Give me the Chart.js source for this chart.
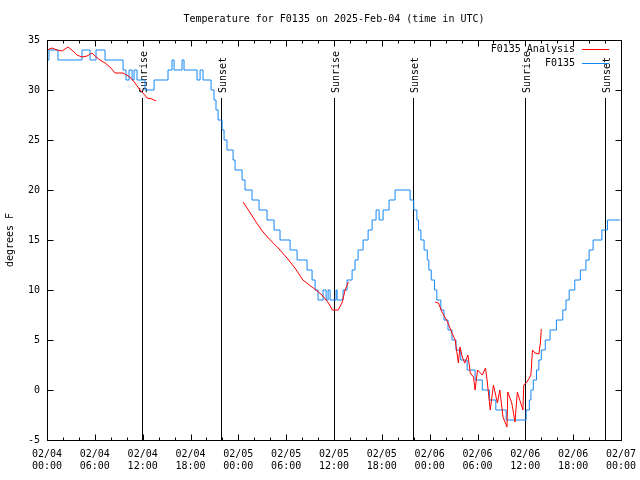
<!DOCTYPE html>
<html>
<head>
<meta charset="utf-8">
<title>Temperature for F0135</title>
<script src="https://cdn.jsdelivr.net/npm/chart.js@4/dist/chart.umd.min.js"></script>
<style>
  html, body { margin: 0; padding: 0; background: #fff; }
  canvas { display: block; }
</style>
</head>
<body>
<canvas id="tempChart" width="640" height="480"></canvas>
<script>
// Hours since 02/04 00:00 UTC, temperatures in degrees F
const obsHours = [0, 0.25, 1.38, 4.39, 5.4, 6.15, 7.28, 9.54, 9.91, 10.29, 10.67, 10.92, 11.29,
  12.3, 13.43, 15.18, 15.68, 15.94, 16.94, 17.19, 18.82, 19.2, 19.57, 20.58, 20.95, 21.2, 21.46,
  21.96, 22.21, 22.58, 23.34, 23.59, 24.47, 24.84, 25.72, 26.6, 27.6, 28.48, 29.23, 30.49, 31.37,
  32.62, 33.25, 33.63, 34.0, 34.63, 35.01, 35.26, 35.51, 36.26, 36.39, 37.14, 37.64, 38.27, 38.64,
  39.02, 39.65, 40.28, 40.78, 41.28, 41.66, 42.16, 42.91, 43.66, 45.55, 46.0, 46.4, 46.6, 46.9,
  47.3, 47.7, 47.9, 48.2, 48.6, 48.9, 49.4, 49.8, 50.3, 50.8, 51.3, 51.9, 52.7, 53.7, 54.6, 55.5,
  56.3, 57.6, 60.1, 60.5, 60.7, 61.0, 61.4, 61.7, 62.0, 62.5, 63.1, 63.9, 64.7, 65.1, 65.5, 66.2,
  66.9, 67.6, 68.0, 68.5, 69.6, 70.3, 71.9];
const obsTemps = [33, 34, 33, 34, 33, 34, 33, 32, 31, 32, 31, 32, 31,
  30, 31, 32, 33, 32, 33, 32, 31, 32, 31, 30, 29, 28, 27,
  26, 25, 24, 23, 22, 21, 20, 19, 18, 17, 16, 15, 14, 13,
  12, 11, 10, 9, 10, 9, 10, 9, 10, 9, 10, 11, 12, 13,
  14, 15, 16, 17, 18, 17, 18, 19, 20, 19, 18, 17, 16, 15,
  14, 13, 12, 11, 10, 9, 8, 7, 6, 5, 4, 3, 2, 1, 0, -1,
  -2, -3, -2, -1, 0, 1, 2, 3, 4, 5, 6, 7, 8, 9, 10, 11,
  12, 13, 14, 15, 16, 17, 17];

// Analysis series, null marks the gaps
const anaHours = [0, 0.63, 1.25, 1.88, 2.63, 3.26, 3.76, 4.39, 5.02, 5.65, 6.02, 6.65, 7.28, 7.9,
  8.53, 9.54, 10.41, 11.04, 11.67, 12.05, 12.55, 13.17, 13.68, 14.0,
  24.6, 25.5, 26.3, 27.1, 28.0, 29.0, 30.1, 31.1, 32.1, 33.4, 34.5, 35.3, 35.8, 36.5, 37.0, 37.4,
  37.8, 38.0,
  48.7, 49.1, 49.6, 49.9, 50.3, 50.8, 51.2, 51.6, 51.8, 52.1, 52.4, 52.8, 53.1, 53.5, 53.7, 54.0,
  54.6, 55.0, 55.2, 55.6, 56.0, 56.5, 56.8, 57.2, 57.7, 57.8, 58.3, 58.7, 59.0, 59.3, 59.7, 59.8,
  60.2, 60.7, 60.9, 61.2, 61.7, 61.9, 62.0];
const anaTemps = [34.0, 34.2, 34.0, 33.9, 34.3, 33.9, 33.5, 33.3, 33.4, 33.7, 33.4, 33.0, 32.7, 32.3,
  31.7, 31.7, 31.3, 30.7, 30.0, 29.7, 29.2, 29.1, 28.9, null,
  18.8, 17.7, 16.7, 15.8, 15.0, 14.2, 13.2, 12.2, 11.0, 10.2, 9.5, 8.7, 8.0, 8.0, 8.7, 10.0,
  10.8, null,
  8.8, 8.7, 7.7, 7.3, 6.7, 5.7, 5.0, 2.7, 4.3, 3.3, 2.7, 3.5, 1.7, 1.3, 0.0, 2.0,
  1.5, 2.2, 1.0, -2.0, 0.5, -1.3, 0.0, -2.7, -3.7, -0.2, -1.3, -3.2, -0.2, -1.0, -2.0, 0.5,
  0.8, 1.5, 4.0, 3.7, 3.6, 4.8, 6.1];

const sunHours = [11.92, 21.83, 36.0, 45.9, 59.97, 70.0];
const sunLabels = ["Sunrise", "Sunset", "Sunrise", "Sunset", "Sunrise", "Sunset"];

const xTickLabels = [
  ["02/04", "00:00"], ["02/04", "06:00"], ["02/04", "12:00"], ["02/04", "18:00"],
  ["02/05", "00:00"], ["02/05", "06:00"], ["02/05", "12:00"], ["02/05", "18:00"],
  ["02/06", "00:00"], ["02/06", "06:00"], ["02/06", "12:00"], ["02/06", "18:00"],
  ["02/07", "00:00"],
];

const seriesNames = ["F0135 Analysis", "F0135"];
const seriesColors = ["#ff0000", "#1487f5"];

const FONT = "'DejaVu Sans Mono', monospace";
Chart.defaults.font.family = FONT;
Chart.defaults.font.size = 10;
Chart.defaults.color = "#000";

function toPoints(hours, temps) {
  return hours.map((h, i) => ({ x: h, y: temps[i] }));
}

// gnuplot style frame, inward ticks, sun markers and legend
const gnuplotDecor = {
  id: "gnuplotDecor",
  beforeDatasetsDraw(chart) {
    const { ctx, chartArea: a, scales } = chart;
    ctx.save();
    ctx.strokeStyle = "#000";
    ctx.lineWidth = 1;
    ctx.fillStyle = "#000";
    ctx.font = "10px " + FONT;
    const lineTop = a.top + (a.bottom - a.top) * 0.145;
    sunHours.forEach((h, i) => {
      const x = Math.round(scales.x.getPixelForValue(h)) + 0.5;
      ctx.beginPath();
      ctx.moveTo(x, a.bottom);
      ctx.lineTo(x, lineTop);
      ctx.stroke();
      ctx.save();
      ctx.translate(x + 1.5, lineTop - 5);
      ctx.rotate(-Math.PI / 2);
      ctx.textAlign = "left";
      ctx.textBaseline = "middle";
      ctx.fillText(sunLabels[i], 0, 0);
      ctx.restore();
    });
    ctx.restore();
  },
  afterDraw(chart) {
    const { ctx, chartArea: a, scales } = chart;
    const L = Math.round(a.left) + 0.5, R = Math.round(a.right) + 0.5;
    const T = Math.round(a.top) + 0.5, B = Math.round(a.bottom) + 0.5;
    ctx.save();
    ctx.strokeStyle = "#000";
    ctx.lineWidth = 1;
    ctx.strokeRect(L, T, R - L, B - T);
    ctx.beginPath();
    // x ticks: major every 6 h, minor every 2 h
    for (let h = 0; h <= 72; h += 2) {
      const x = Math.round(scales.x.getPixelForValue(h)) + 0.5;
      const len = h % 6 === 0 ? 6 : 3;
      ctx.moveTo(x, B); ctx.lineTo(x, B - len);
      ctx.moveTo(x, T); ctx.lineTo(x, T + len);
    }
    for (let v = -5; v <= 35; v += 5) {
      const y = Math.round(scales.y.getPixelForValue(v)) + 0.5;
      ctx.moveTo(L, y); ctx.lineTo(L + 6, y);
      ctx.moveTo(R, y); ctx.lineTo(R - 6, y);
    }
    ctx.stroke();

    // legend, text right aligned with the sample line after it
    ctx.font = "10px " + FONT;
    ctx.textAlign = "right";
    ctx.textBaseline = "middle";
    seriesNames.forEach((name, i) => {
      const y = Math.round(a.top + 9 + i * 14) + 0.5;
      ctx.fillStyle = "#000";
      ctx.fillText(name, a.right - 46, y);
      ctx.strokeStyle = seriesColors[i];
      ctx.beginPath();
      ctx.moveTo(a.right - 39, y);
      ctx.lineTo(a.right - 12, y);
      ctx.stroke();
    });
    ctx.restore();
  },
};

new Chart(document.getElementById("tempChart").getContext("2d"), {
  type: "line",
  data: {
    datasets: [
      {
        label: seriesNames[0],
        data: toPoints(anaHours, anaTemps),
        borderColor: seriesColors[0],
        borderWidth: 1,
        pointRadius: 0,
        tension: 0,
        spanGaps: false,
      },
      {
        label: seriesNames[1],
        data: toPoints(obsHours, obsTemps),
        borderColor: seriesColors[1],
        borderWidth: 1,
        pointRadius: 0,
        stepped: "before",
      },
    ],
  },
  options: {
    responsive: false,
    animation: false,
    events: [],
    layout: { padding: { left: 0, right: 19, top: 0, bottom: 0 } },
    plugins: {
      legend: { display: false },
      tooltip: { enabled: false },
      title: {
        display: true,
        fullSize: false,
        text: "Temperature for F0135 on 2025-Feb-04 (time in UTC)",
        font: { size: 10, weight: "normal" },
        color: "#000",
        padding: { top: 13, bottom: 15 },
      },
    },
    scales: {
      x: {
        type: "linear",
        min: 0,
        max: 72,
        grid: { display: false, drawTicks: false, tickLength: 0 },
        border: { display: false },
        ticks: {
          stepSize: 6,
          autoSkip: false,
          maxRotation: 0,
          padding: 8,
          callback: (v) => xTickLabels[Math.round(v / 6)],
        },
        afterFit: (s) => {
          s.height = 40;
          s.paddingLeft = 0;
          s.paddingRight = 0;
        },
      },
      y: {
        min: -5,
        max: 35,
        grid: { display: false, drawTicks: false, tickLength: 0 },
        border: { display: false },
        ticks: { stepSize: 5, padding: 7 },
        title: {
          display: true,
          text: "degrees F",
          padding: { top: 4, bottom: 0 },
        },
        afterFit: (s) => { s.width = 47; },
      },
    },
  },
  plugins: [gnuplotDecor],
});
</script>
</body>
</html>
